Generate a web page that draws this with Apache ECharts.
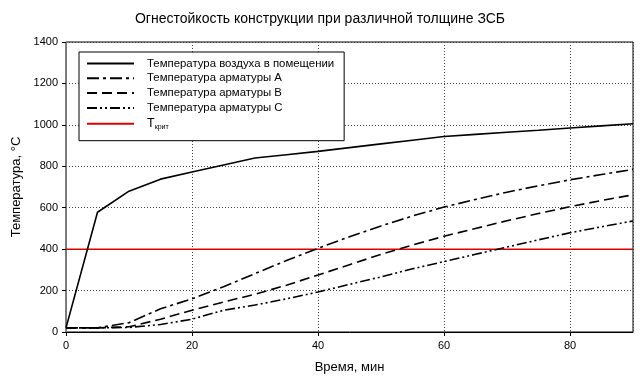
<!DOCTYPE html>
<html><head><meta charset="utf-8">
<script src="https://cdn.jsdelivr.net/npm/echarts@6/dist/echarts.min.js"></script>
<style>html,body{margin:0;padding:0;background:#fff}#c{width:640px;height:384px}</style>
</head><body><div id="c"></div>
<script>
var titleText = 'Огнестойкость конструкции при различной толщине ЗСБ';
var xName = 'Время, мин';
var yName = 'Температура, °C';
var seriesNames = ['Температура воздуха в помещении','Температура арматуры A','Температура арматуры B','Температура арматуры C','Tкрит'];
var time = [0,5,10,15,20,25,30,35,40,45,50,55,60,65,70,75,80,85,90];
var airTemp = [20,578,680,738,772,806,840,856,872,890,908,926,944,954,964,974,985,995,1005];
var rebarA = [20,20,45,112,160,218,282,345,404,460,512,560,603,640,675,706,735,760,785];
var rebarB = [20,20,25,62,105,145,182,226,275,325,375,420,462,500,537,572,605,635,662];
var rebarC = [20,20,22,36,62,105,130,160,193,230,266,305,340,375,410,445,479,508,536];
var tcritTime = [0,90];
var tcritVal = [400,400];

function pairs(xs, ys){ return xs.map(function(x,i){ return [x, ys[i]]; }); }

var font = 'Liberation Sans, Arial, sans-serif';
var chart = echarts.init(document.getElementById('c'), null, {renderer:'canvas'});
var lineStyles = [
  {color:'#000', width:1.6, type:'solid'},
  {color:'#000', width:1.6, type:[12,4,3,4]},
  {color:'#000', width:1.6, type:[10,5]},
  {color:'#000', width:1.6, type:[10,3,2,3,2,3]},
  {color:'#e00000', width:1.5, type:'solid'}
];
var dataSets = [pairs(time,airTemp), pairs(time,rebarA), pairs(time,rebarB), pairs(time,rebarC), pairs(tcritTime,tcritVal)];
var series = seriesNames.map(function(n,i){
  return {
    name:n, type:'line', data:dataSets[i], symbol:'none', showSymbol:false,
    lineStyle:lineStyles[i], itemStyle:{color:lineStyles[i].color},
    animation:false, z: i===4 ? 1 : 2
  };
});
chart.setOption({
  animation:false,
  backgroundColor:'#fff',
  title:{text:titleText, left:'center', top:7, textStyle:{fontFamily:font, fontSize:14, fontWeight:'normal', color:'#000'}},
  grid:{left:66, right:7, top:42, bottom:52, show:true, borderColor:'#000', borderWidth:1},
  legend:{
    orient:'vertical', left:79, top:52,
    backgroundColor:'#fff', borderColor:'#000', borderWidth:1, borderRadius:0,
    padding:[6,10,10,7], itemWidth:47, itemHeight:11, itemGap:3.8,
    itemStyle:{opacity:0},
    data: seriesNames,
    textStyle:{fontFamily:font, fontSize:11.4, color:'#000', padding:[0,0,0,8],
      rich:{t:{fontFamily:font, fontSize:12.5, color:'#000'}, s:{fontFamily:font, fontSize:7, color:'#000', padding:[7,0,0,0]}}},
    formatter:function(n){ return n==='Tкрит' ? '{t|T}{s|крит}' : n; }
  },
  xAxis:{type:'value', min:0, max:90, interval:20,
    name:xName, nameLocation:'middle', nameGap:29,
    nameTextStyle:{fontFamily:font, fontSize:13, color:'#000'},
    axisLine:{show:true, onZero:false, lineStyle:{color:'#000', width:1}},
    axisTick:{show:true, length:4, lineStyle:{color:'#000'}},
    axisLabel:{fontFamily:font, fontSize:11, color:'#000', margin:8, showMaxLabel:false},
    splitLine:{show:true, lineStyle:{color:'#444', type:[1,2], width:1}}
  },
  yAxis:{type:'value', min:0, max:1400, interval:200,
    name:yName, nameLocation:'middle', nameGap:31,
    nameTextStyle:{fontFamily:font, fontSize:13, color:'#000'},
    axisLine:{show:true, lineStyle:{color:'#777', width:1}},
    axisTick:{show:true, length:4, lineStyle:{color:'#000'}},
    axisLabel:{fontFamily:font, fontSize:11, color:'#000', margin:8, formatter:function(v){return String(v);}},
    splitLine:{show:true, lineStyle:{color:'#444', type:[1,2], width:1}}
  },
  series:series
});
</script></body></html>
